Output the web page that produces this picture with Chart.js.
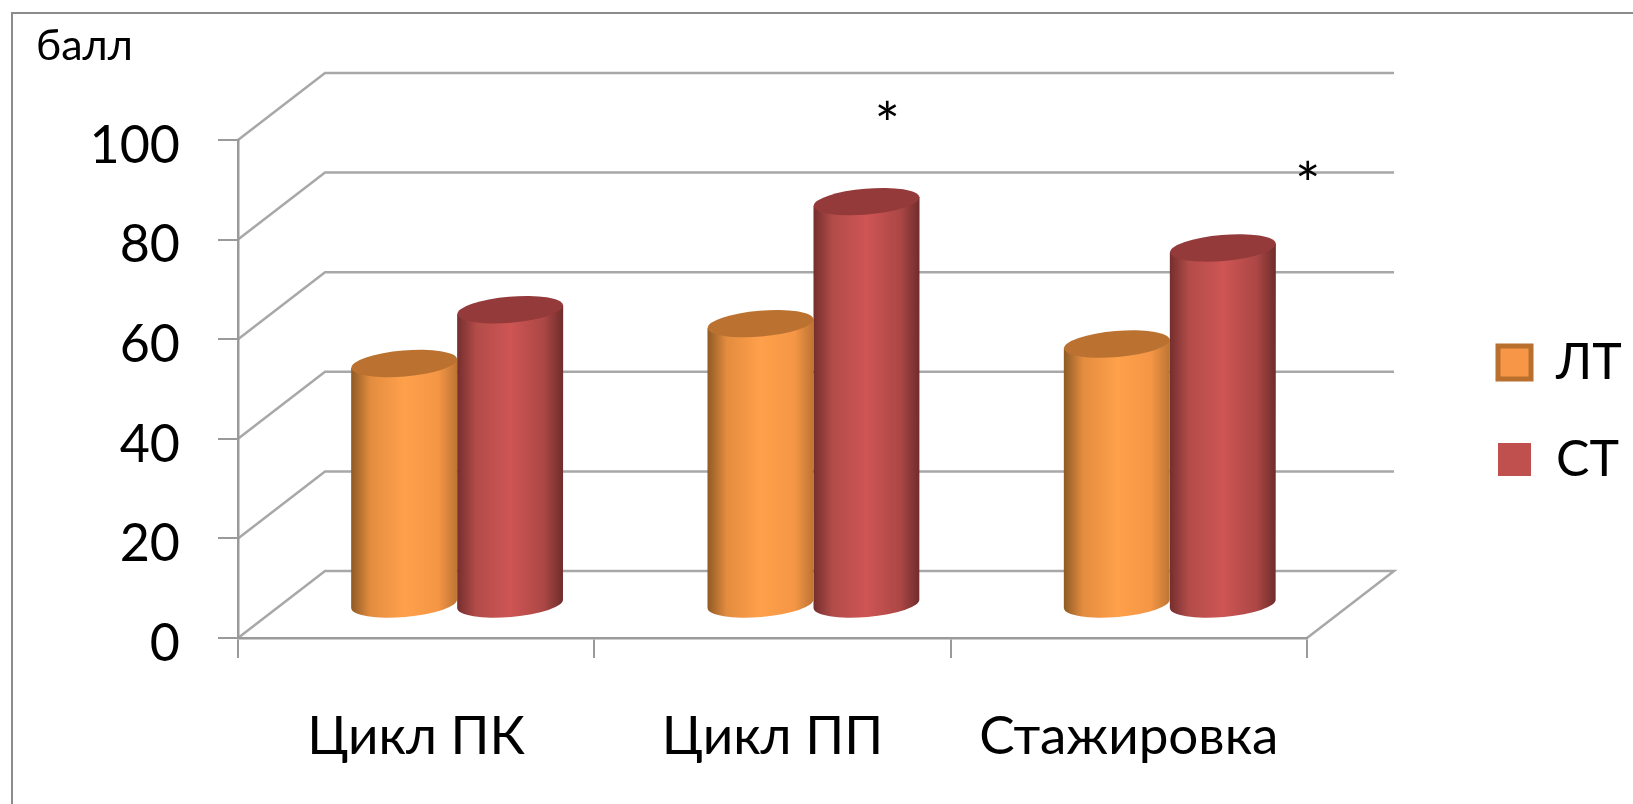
<!DOCTYPE html>
<html>
<head>
<meta charset="utf-8">
<title>Chart</title>
<script src="https://cdn.jsdelivr.net/npm/chart.js@4/dist/chart.umd.js"></script>
<style>
  html, body { margin: 0; padding: 0; background: #fff; }
  canvas { display: block; }
</style>
</head>
<body>
<canvas id="chart" width="1633" height="804"></canvas>
<script>
const categories = ['Цикл ПК', 'Цикл ПП', 'Стажировка'];
const seriesLT = [48.5, 56.5, 52.4];
const seriesCT = [59.3, 81, 71.7];
const yTicks = [0, 20, 40, 60, 80, 100];
const yUnit = 'балл';
// asterisks: position on the category scale, value on the y scale
const starPlaces = [1.2, 2.38];
const starValues = [97.6, 85.6];

const FONT = 'Lato, "Open Sans", sans-serif';
const GRID = '#a8a8a8';
const AXIS = '#9a9a9a';
const depth = { x: 87, y: -67 };   // back wall offset of the fake 3D box
const barShift = { x: 41, y: -33 }; // cylinders stand about half way into the box

const orange = { stops: ['#8f5a25', '#e38c3f', '#ffa04b', '#f59646', '#bd7533'], cap: '#bb7230' };
const red = { stops: ['#742e2e', '#b24c49', '#ce5554', '#ab4745', '#6f2c2c'], cap: '#943a3a' };

function cylinderFill(ctx, x0, x1, stops) {
  const g = ctx.createLinearGradient(x0, 0, x1, 0);
  const at = [0, 0.18, 0.5, 0.82, 1];
  stops.forEach((c, i) => g.addColorStop(at[i], c));
  return g;
}

// walls and floor behind the bars, from the y ticks
const box3d = {
  id: 'box3d',
  beforeDraw(chart) {
    const { ctx, width, height, chartArea: a } = chart;
    const y = chart.scales.y;
    ctx.save();
    ctx.fillStyle = '#fff';
    ctx.fillRect(0, 0, width, height);
    // outer frame, cut off by the picture on the right and at the bottom
    ctx.strokeStyle = '#8c8c8c';
    ctx.lineWidth = 2;
    ctx.beginPath();
    ctx.moveTo(12, height);
    ctx.lineTo(12, 13);
    ctx.lineTo(width, 13);
    ctx.stroke();
    ctx.strokeStyle = GRID;
    ctx.lineWidth = 2.5;
    yTicks.forEach(v => {
      const py = y.getPixelForValue(v);
      ctx.beginPath();
      ctx.moveTo(a.left, py);
      ctx.lineTo(a.left + depth.x, py + depth.y);
      ctx.lineTo(a.right + depth.x, py + depth.y);
      if (v === 0) ctx.lineTo(a.right, py);
      ctx.stroke();
    });
    ctx.restore();
  },
  afterLayout(chart) {
    // legend sits higher and further right than its box would
    const lg = chart.legend;
    lg.left = 1498 - lg.options.labels.padding;
    lg.right = chart.width;
    lg.width = lg.right - lg.left;
    lg.top -= 61;
    lg.bottom -= 61;
  }
};

// cylinders are painted from the bar elements
function drawCylinders(chart, meta, look) {
  const ctx = chart.ctx;
  const tilt = -0.085, ry = 13;
  meta.data.forEach(bar => {
    const rx = bar.width / 2;
    const cx = bar.x + barShift.x, top = bar.y + barShift.y, bottom = bar.base + barShift.y;
    const lift = Math.sin(tilt) * rx;
    ctx.save();
    ctx.beginPath();
    ctx.moveTo(cx - rx, top - lift);
    ctx.lineTo(cx - rx, bottom - lift);
    ctx.ellipse(cx, bottom, rx, ry, tilt, Math.PI, 0, true);
    ctx.lineTo(cx + rx, top + lift);
    ctx.closePath();
    ctx.fillStyle = cylinderFill(ctx, cx - rx, cx + rx, look.stops);
    ctx.fill();
    ctx.beginPath();
    ctx.ellipse(cx, top, rx, ry, tilt, 0, Math.PI * 2);
    ctx.fillStyle = look.cap;
    ctx.fill();
    ctx.restore();
  });
}

const cylinders = {
  id: 'cylinders',
  beforeDatasetsDraw(chart) {
    // first series first, the second one overlaps it
    drawCylinders(chart, chart.getDatasetMeta(0), orange);
    drawCylinders(chart, chart.getDatasetMeta(1), red);
    return false;
  },
  afterDraw(chart) {
    const { ctx, scales } = chart;
    ctx.save();
    ctx.fillStyle = '#000';
    ctx.textBaseline = 'alphabetic';
    ctx.font = '43px ' + FONT;
    ctx.fillText(yUnit, 36, 60);
    ctx.font = '60px ' + FONT;
    ctx.textAlign = 'center';
    ctx.textBaseline = 'middle';
    starPlaces.forEach((p, i) => {
      const px = scales.x.getPixelForValue(p) + depth.x / 2;
      const py = scales.y.getPixelForValue(starValues[i]) + depth.y / 2;
      ctx.fillText('*', px, py + 8);
    });
    ctx.restore();
  }
};

new Chart(document.getElementById('chart'), {
  type: 'bar',
  data: {
    labels: categories,
    datasets: [
      { label: 'ЛТ', data: seriesLT, backgroundColor: '#f79646', borderColor: '#b96f2e', borderWidth: 5 },
      { label: 'СТ', data: seriesCT, backgroundColor: '#c0504d', borderColor: '#c0504d', borderWidth: 0 }
    ]
  },
  plugins: [box3d, cylinders],
  options: {
    responsive: false,
    animation: false,
    categoryPercentage: 0.595,
    barPercentage: 1,
    layout: { padding: { right: 206, top: 140 } },
    scales: {
      x: {
        afterFit: s => { s.height = 166; },
        border: { color: AXIS, width: 2.5 },
        grid: { offset: true, drawOnChartArea: false, color: AXIS, lineWidth: 2, tickLength: 20 },
        ticks: { color: '#000', padding: 47, font: { family: FONT, size: 53 }, maxRotation: 0 }
      },
      y: {
        min: 0,
        max: 100,
        afterFit: s => { s.width = 238; },
        afterBuildTicks: s => { s.ticks = yTicks.map(v => ({ value: v })); },
        border: { color: AXIS, width: 2.5 },
        grid: { drawOnChartArea: false, color: AXIS, lineWidth: 2, tickLength: 20 },
        ticks: { color: '#000', padding: 38, labelOffset: 6, font: { family: FONT, size: 52 } }
      }
    },
    plugins: {
      tooltip: { enabled: false },
      legend: {
        position: 'right',
        maxWidth: 120,
        labels: { color: '#000', boxWidth: 33, boxHeight: 33, padding: 47, font: { family: FONT, size: 50 } }
      }
    }
  }
});
</script>
</body>
</html>
